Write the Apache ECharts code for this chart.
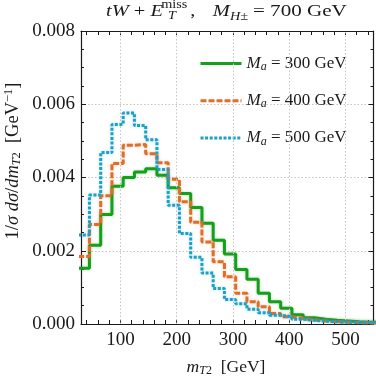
<!DOCTYPE html>
<html><head><meta charset="utf-8">
<script src="https://cdn.jsdelivr.net/npm/echarts@6/dist/echarts.min.js"></script>
<style>html,body{margin:0;padding:0;background:#fff}#c{width:376px;height:381px}</style>
</head><body><div id="c"></div>
<script>
// ---- data ----
const binLeftEdges = [25,45,65,85,105,125,145,165,185,205,225,245,265,285,305,325,345,365,385,405,425,445,465,485,505,525,545];
const binLastRightEdge = 565;
const ma300 = [0.00152,0.00215,0.00299,0.00376,0.00400,0.00415,0.00424,0.00406,0.00372,0.00356,0.00318,0.00275,0.00229,0.00191,0.00149,0.00122,0.00084,0.00061,0.00043,0.00025,0.00017,0.00013,0.00010,0.00008,0.00006,0.00005,0.00004];
const ma400 = [0.00184,0.00272,0.00350,0.00438,0.00488,0.00490,0.00465,0.00440,0.00395,0.00334,0.00278,0.00224,0.00170,0.00129,0.00084,0.00061,0.00047,0.00029,0.00020,0.00015,0.00011,0.00008,0.00006,0.00005,0.00004,0.00003,0.00003];
const ma500 = [0.00243,0.00352,0.00468,0.00545,0.00576,0.00542,0.00503,0.00422,0.00324,0.00247,0.00182,0.00139,0.00097,0.00067,0.00055,0.00040,0.00031,0.00024,0.00020,0.00013,0.00010,0.00008,0.00006,0.00005,0.00004,0.00004,0.00003];
const seriesNames = ['Ma300','Ma400','Ma500'];
const legendMasses = ['300','400','500'];
const xTickLabels = [100,200,300,400,500];
const xMinorTicks = [40,60,80,100,120,140,160,180,200,220,240,260,280,300,320,340,360,380,400,420,440,460,480,500,520,540];

const FONT = 'Liberation Serif';
const INK = '#1a1a1a';
const colors = ['#169e1c','#e06d28','#1ba0c8'];
const dashes = ['solid',[6,2],[3,1.6]];

function hist(vals){
  const d = binLeftEdges.map((e,i)=>[e, vals[i]]);
  d.push([binLastRightEdge, vals[vals.length-1]]);
  return d;
}

const chart = echarts.init(document.getElementById('c'), null, {renderer:'canvas'});
const axLine = {show:true, onZero:false, lineStyle:{color:INK, width:1.2}};
function xAx(pos, labels){
  return {type:'value', min:30, max:550, position:pos,
    axisLine:axLine,
    axisTick:{show:true, inside:true, length:4, customValues:xMinorTicks, lineStyle:{color:INK, width:1}},
    axisLabel:labels ? {show:true, customValues:xTickLabels, margin:7, fontFamily:FONT, fontSize:19, color:INK} : {show:false},
    splitLine:{show:false}};
}
function yAx(pos, labels){
  return {type:'value', min:0, max:0.008, interval:0.002, position:pos,
    axisLine:axLine,
    axisTick:{show:true, inside:true, length:5, lineStyle:{color:INK}},
    minorTick:{show:true, splitNumber:4, length:3, lineStyle:{color:INK}},
    axisLabel:labels ? {show:true, margin:6, fontFamily:FONT, fontSize:19, color:INK,
      formatter:v=>v.toFixed(3)} : {show:false},
    splitLine:{show:labels, lineStyle:{color:'#c4c4c4', width:1, type:[1.5,2]}}};
}

const series = [{
  name:'grid', type:'line', data:[], z:1, silent:true,
  markLine:{silent:true, symbol:'none', label:{show:false}, animation:false,
    lineStyle:{color:'#c4c4c4', width:1, type:[1.5,2]},
    data:xTickLabels.map(v=>({xAxis:v}))}
}];
[ma300, ma400, ma500].forEach((vals,k)=>{
  series.push({name:seriesNames[k], type:'line', step:'end', data:hist(vals),
    symbol:'none', showSymbol:false, clip:true, z:3+k,
    itemStyle:{color:colors[k]},
    lineStyle:{color:colors[k], width:3, type:dashes[k], cap:'butt',
      shadowBlur:3, shadowColor:echarts.color.modifyAlpha(colors[k],0.35)}});
});

const sub = {fontSize:12, fontStyle:'italic', fontFamily:FONT, padding:[7,0,0,0]};
const option = {
  animation:false,
  backgroundColor:'#fff',
  grid:{left:81, right:2.5, top:31, bottom:57, containLabel:false, outerBoundsMode:'none'},
  xAxis:[xAx('bottom',true), xAx('top',false)],
  yAxis:[yAx('left',true), yAx('right',false)],
  legend:{data:seriesNames, orient:'vertical', left:194, top:50, itemWidth:41, itemHeight:16, itemGap:19.2,
    selectedMode:false,
    itemStyle:{opacity:0, borderWidth:0},
    lineStyle:{width:3, shadowBlur:0},
    formatter:name=>'{i|M}{s|a} = '+legendMasses[seriesNames.indexOf(name)]+' GeV',
    textStyle:{fontFamily:FONT, fontSize:17, color:INK,
      rich:{i:{fontFamily:FONT, fontSize:17, fontStyle:'italic', color:INK},
            s:{fontFamily:FONT, fontSize:12, fontStyle:'italic', color:INK, padding:[7,0,0,0]}}}},
  graphic:[
    {type:'group', x:106, y:0, scaleX:1.24, children:[
      {type:'text', x:0, y:12, style:{text:'{i|tW} + {i|E}', fontFamily:FONT, fontSize:16.5, fill:INK, verticalAlign:'middle',
        rich:{i:{fontFamily:FONT, fontSize:16.5, fontStyle:'italic', fill:INK}}}},
      {type:'text', x:44.5, y:5, style:{text:'miss', fontFamily:FONT, fontSize:11.5, fill:INK, verticalAlign:'middle'}},
      {type:'text', x:50, y:16, style:{text:'T', fontFamily:FONT, fontSize:11.5, fontStyle:'italic', fill:INK, verticalAlign:'middle'}},
      {type:'text', x:68, y:12, style:{text:',', fontFamily:FONT, fontSize:16.5, fill:INK, verticalAlign:'middle'}},
      {type:'text', x:86, y:12, style:{text:'M', fontFamily:FONT, fontSize:16.5, fontStyle:'italic', fill:INK, verticalAlign:'middle'}},
      {type:'text', x:100, y:16.5, style:{text:'H±', fontFamily:FONT, fontSize:11.5, fontStyle:'italic', fill:INK, verticalAlign:'middle'}},
      {type:'text', x:118.5, y:12, style:{text:'= 700 GeV', fontFamily:FONT, fontSize:17, fill:INK, verticalAlign:'middle'}}
    ]},
    {type:'text', x:226, y:367.5, style:{text:'{i|m}{s|T}{n|2}  [GeV]', fontFamily:FONT, fontSize:17.5, fill:INK, align:'center', verticalAlign:'middle',
      rich:{i:{fontFamily:FONT, fontSize:17.5, fontStyle:'italic', fill:INK}, s:sub, n:{fontSize:12, fontFamily:FONT, padding:[7,0,0,0]}}}},
    {type:'text', x:13, y:161, rotation:Math.PI/2, style:{text:'1/{i|σ} {i|dσ}/{i|dm}{s|T}{n|2}  [GeV{p|−1}]', fontFamily:FONT, fontSize:18.5, fill:INK, align:'center', verticalAlign:'middle',
      rich:{i:{fontFamily:FONT, fontSize:18.5, fontStyle:'italic', fill:INK}, s:sub, n:{fontSize:12.5, fontFamily:FONT, padding:[7,0,0,0]},
            p:{fontSize:12.5, fontFamily:FONT, padding:[0,0,8,0]}}}}
  ],
  series
};
chart.setOption(option);
</script></body></html>
